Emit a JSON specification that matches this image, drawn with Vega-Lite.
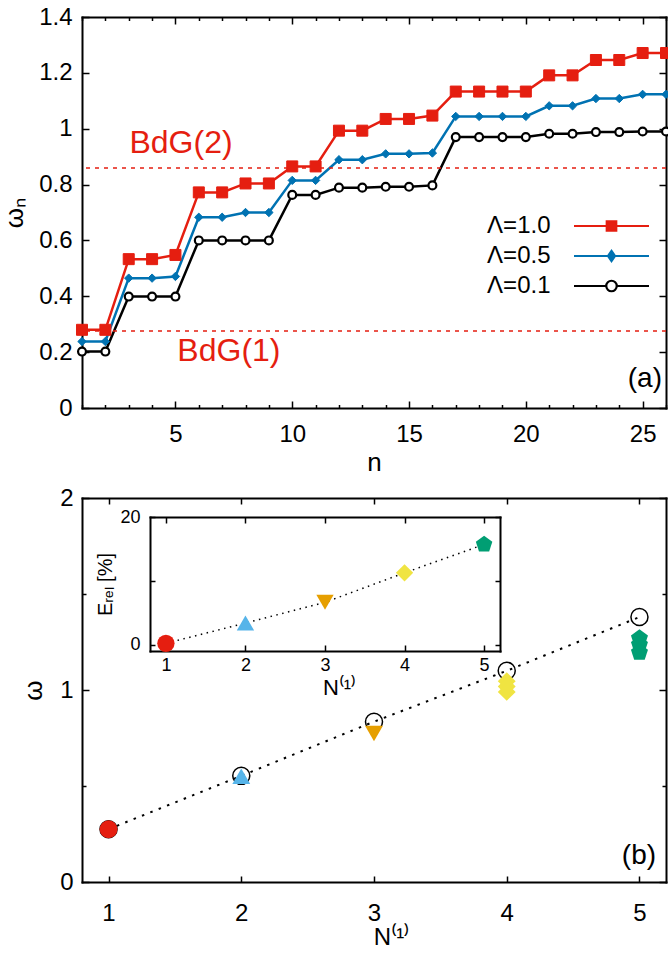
{
  "$schema": "https://vega.github.io/schema/vega-lite/v6.json",
  "padding": {"left": 1, "top": 5, "right": 0, "bottom": 0},
  "background": "white",
  "spacing": 10,
  "config": {
    "view": {"stroke": null},
    "font": "Liberation Sans",
    "axis": {"grid": false, "domainColor": "#000000", "domainWidth": 2, "domainCap": "square", "tickColor": "#000000", "tickWidth": 1.5, "labelColor": "#000000", "titleColor": "#000000", "labelFont": "Liberation Sans", "titleFont": "Liberation Sans", "labelFontSize": 24, "titleFontSize": 26, "titleFontWeight": "normal", "labelFlush": false, "labelOverlap": false},
    "text": {"font": "Liberation Sans"}
  },
  "datasets": {
    "top": [
      {"n":1,"lam":"Λ=1.0","w":0.28},{"n":2,"lam":"Λ=1.0","w":0.28},{"n":3,"lam":"Λ=1.0","w":0.533},{"n":4,"lam":"Λ=1.0","w":0.533},{"n":5,"lam":"Λ=1.0","w":0.548},{"n":6,"lam":"Λ=1.0","w":0.772},{"n":7,"lam":"Λ=1.0","w":0.772},{"n":8,"lam":"Λ=1.0","w":0.804},{"n":9,"lam":"Λ=1.0","w":0.804},{"n":10,"lam":"Λ=1.0","w":0.865},{"n":11,"lam":"Λ=1.0","w":0.865},{"n":12,"lam":"Λ=1.0","w":0.993},{"n":13,"lam":"Λ=1.0","w":0.993},{"n":14,"lam":"Λ=1.0","w":1.035},{"n":15,"lam":"Λ=1.0","w":1.035},{"n":16,"lam":"Λ=1.0","w":1.047},{"n":17,"lam":"Λ=1.0","w":1.133},{"n":18,"lam":"Λ=1.0","w":1.133},{"n":19,"lam":"Λ=1.0","w":1.133},{"n":20,"lam":"Λ=1.0","w":1.133},{"n":21,"lam":"Λ=1.0","w":1.191},{"n":22,"lam":"Λ=1.0","w":1.191},{"n":23,"lam":"Λ=1.0","w":1.246},{"n":24,"lam":"Λ=1.0","w":1.246},{"n":25,"lam":"Λ=1.0","w":1.271},{"n":26,"lam":"Λ=1.0","w":1.271},
      {"n":1,"lam":"Λ=0.5","w":0.238},{"n":2,"lam":"Λ=0.5","w":0.238},{"n":3,"lam":"Λ=0.5","w":0.465},{"n":4,"lam":"Λ=0.5","w":0.465},{"n":5,"lam":"Λ=0.5","w":0.471},{"n":6,"lam":"Λ=0.5","w":0.683},{"n":7,"lam":"Λ=0.5","w":0.683},{"n":8,"lam":"Λ=0.5","w":0.7},{"n":9,"lam":"Λ=0.5","w":0.7},{"n":10,"lam":"Λ=0.5","w":0.815},{"n":11,"lam":"Λ=0.5","w":0.815},{"n":12,"lam":"Λ=0.5","w":0.889},{"n":13,"lam":"Λ=0.5","w":0.889},{"n":14,"lam":"Λ=0.5","w":0.91},{"n":15,"lam":"Λ=0.5","w":0.91},{"n":16,"lam":"Λ=0.5","w":0.913},{"n":17,"lam":"Λ=0.5","w":1.044},{"n":18,"lam":"Λ=0.5","w":1.044},{"n":19,"lam":"Λ=0.5","w":1.044},{"n":20,"lam":"Λ=0.5","w":1.044},{"n":21,"lam":"Λ=0.5","w":1.082},{"n":22,"lam":"Λ=0.5","w":1.082},{"n":23,"lam":"Λ=0.5","w":1.108},{"n":24,"lam":"Λ=0.5","w":1.108},{"n":25,"lam":"Λ=0.5","w":1.123},{"n":26,"lam":"Λ=0.5","w":1.123},
      {"n":1,"lam":"Λ=0.1","w":0.202},{"n":2,"lam":"Λ=0.1","w":0.202},{"n":3,"lam":"Λ=0.1","w":0.399},{"n":4,"lam":"Λ=0.1","w":0.399},{"n":5,"lam":"Λ=0.1","w":0.399},{"n":6,"lam":"Λ=0.1","w":0.6},{"n":7,"lam":"Λ=0.1","w":0.6},{"n":8,"lam":"Λ=0.1","w":0.6},{"n":9,"lam":"Λ=0.1","w":0.6},{"n":10,"lam":"Λ=0.1","w":0.763},{"n":11,"lam":"Λ=0.1","w":0.763},{"n":12,"lam":"Λ=0.1","w":0.789},{"n":13,"lam":"Λ=0.1","w":0.789},{"n":14,"lam":"Λ=0.1","w":0.792},{"n":15,"lam":"Λ=0.1","w":0.792},{"n":16,"lam":"Λ=0.1","w":0.797},{"n":17,"lam":"Λ=0.1","w":0.97},{"n":18,"lam":"Λ=0.1","w":0.97},{"n":19,"lam":"Λ=0.1","w":0.97},{"n":20,"lam":"Λ=0.1","w":0.97},{"n":21,"lam":"Λ=0.1","w":0.982},{"n":22,"lam":"Λ=0.1","w":0.982},{"n":23,"lam":"Λ=0.1","w":0.988},{"n":24,"lam":"Λ=0.1","w":0.988},{"n":25,"lam":"Λ=0.1","w":0.99},{"n":26,"lam":"Λ=0.1","w":0.99}
    ],
    "circ": [{"N":1,"w":0.275},{"N":2,"w":0.553},{"N":3,"w":0.835},{"N":4,"w":1.1},{"N":5,"w":1.38}],
    "marks": [{"N":1,"w":0.275},{"N":2,"w":0.551},{"N":3,"w":0.773},{"N":4,"w":1.046},{"N":4,"w":1.018},{"N":4,"w":0.99},{"N":5,"w":1.27},{"N":5,"w":1.235},{"N":5,"w":1.195}],
    "inset": [{"N":1,"e":0.2},{"N":2,"e":3.38},{"N":3,"e":6.63},{"N":4,"e":11.25},{"N":5,"e":15.7}]
  },
  "resolve": {"scale": {"color": "independent", "shape": "independent"}, "legend": {"color": "independent"}},
  "vconcat": [
    {
      "width": 584,
      "height": 391,
      "resolve": {"scale": {"x": "independent", "y": "independent"}},
      "layer": [
        {
          "layer": [
            {
              "data": {"name": "top"},
              "mark": {"type": "line", "strokeWidth": 2.5},
              "encoding": {
                "x": {"field": "n", "type": "quantitative", "scale": {"domain": [1, 26], "nice": false, "zero": false},
                  "axis": {"orient": "bottom", "values": [1,2,3,4,5,6,7,8,9,10,11,12,13,14,15,16,17,18,19,20,21,22,23,24,25,26], "tickCount": 40, "labelOverlap": false, "labelExpr": "datum.value % 5 === 0 ? '' + datum.value : ''", "tickSize": {"condition": {"test": "datum.value % 5 === 0", "value": -7}, "value": -3.5}, "labelPadding": 21, "title": "n", "titlePadding": 0}},
                "y": {"field": "w", "type": "quantitative", "scale": {"domain": [0, 1.4], "nice": false, "zero": false},
                  "axis": {"orient": "left", "values": [0, 0.2, 0.4, 0.6, 0.8, 1, 1.2, 1.4], "tickCount": 20, "labelOverlap": false, "labelExpr": "'' + datum.value", "tickSize": -7, "labelPadding": 17, "title": "ωₙ", "titlePadding": 11}},
                "color": {"field": "lam", "type": "nominal", "scale": {"domain": ["Λ=1.0", "Λ=0.5", "Λ=0.1"], "range": ["#e51e10", "#0072b2", "#000000"]},
                  "legend": {
                    "orient": "none", "legendX": 517.5, "legendY": 197, "title": null, "padding": 0, "offset": 0,
                    "labelFontSize": 24, "labelFont": "Liberation Sans", "labelColor": "#000000", "labelAlign": "right", "labelBaseline": "middle", "labelOffset": -73, "labelLimit": 0,
                    "symbolSize": 100, "symbolStrokeWidth": 2.2, "rowPadding": 6,
                    "encode": {"symbols": {"update": {
                      "shape": {"signal": "datum.value === 'Λ=1.0' ? 'M-7.5,0H7.5M-0.95,-0.95H0.95V0.95H-0.95Z' : datum.value === 'Λ=0.5' ? 'M-7.5,0H7.5M0,-1L0.7,0L0,1L-0.7,0Z' : 'M-7.5,0H-1.05M1.05,0H7.5M-1.05,0A1.05,1.05 0 1,0 1.05,0A1.05,1.05 0 1,0 -1.05,0Z'"},
                      "fill": {"signal": "datum.value === 'Λ=1.0' ? '#e51e10' : datum.value === 'Λ=0.5' ? '#0072b2' : '#ffffff'"},
                      "stroke": {"signal": "datum.value === 'Λ=1.0' ? '#e51e10' : datum.value === 'Λ=0.5' ? '#0072b2' : '#000000'"},
                      "strokeWidth": {"value": 2.2},
                      "opacity": {"value": 1}
                    }}}
                  }}
              }
            },
            {
              "data": {"values": [{}]},
              "mark": {"type": "rule", "color": "#e51e10", "strokeWidth": 1.5, "strokeDash": [4, 5]},
              "encoding": {"y": {"datum": 0.859}}
            },
            {
              "data": {"values": [{}]},
              "mark": {"type": "rule", "color": "#e51e10", "strokeWidth": 1.5, "strokeDash": [4, 5]},
              "encoding": {"y": {"datum": 0.276}}
            },
            {
              "data": {"name": "top"},
              "transform": [{"filter": "datum.lam === 'Λ=1.0'"}],
              "mark": {"type": "point", "shape": "square", "filled": true, "fill": "#e51e10", "stroke": "#e51e10", "strokeWidth": 1, "size": 121, "opacity": 1},
              "encoding": {"x": {"field": "n", "type": "quantitative"}, "y": {"field": "w", "type": "quantitative"}}
            },
            {
              "data": {"name": "top"},
              "transform": [{"filter": "datum.lam === 'Λ=0.5'"}],
              "mark": {"type": "point", "shape": "diamond", "filled": true, "fill": "#0072b2", "stroke": "#0072b2", "strokeWidth": 1, "size": 70, "opacity": 1},
              "encoding": {"x": {"field": "n", "type": "quantitative"}, "y": {"field": "w", "type": "quantitative"}}
            },
            {
              "data": {"name": "top"},
              "transform": [{"filter": "datum.lam === 'Λ=0.1'"}],
              "mark": {"type": "point", "shape": "circle", "filled": true, "fill": "#ffffff", "stroke": "#000000", "strokeWidth": 2.2, "size": 62, "opacity": 1},
              "encoding": {"x": {"field": "n", "type": "quantitative"}, "y": {"field": "w", "type": "quantitative"}}
            },
            {
              "data": {"values": [{}]},
              "mark": {"type": "text", "text": "BdG(2)", "fontSize": 32, "color": "#e51e10", "align": "center", "baseline": "middle"},
              "encoding": {"x": {"datum": 5.24}, "y": {"datum": 0.95}}
            },
            {
              "data": {"values": [{}]},
              "mark": {"type": "text", "text": "BdG(1)", "fontSize": 32, "color": "#e51e10", "align": "center", "baseline": "middle"},
              "encoding": {"x": {"datum": 7.29}, "y": {"datum": 0.204}}
            },
            {
              "data": {"values": [{}]},
              "mark": {"type": "text", "text": "(a)", "fontSize": 28, "color": "#000000", "align": "right", "baseline": "middle"},
              "encoding": {"x": {"datum": 25.83}, "y": {"datum": 0.104}}
            }
          ]
        },
        {
          "data": {"name": "top"},
          "mark": {"type": "point", "opacity": 0},
          "encoding": {
            "x": {"field": "n", "type": "quantitative", "scale": {"domain": [1, 26], "nice": false, "zero": false},
              "axis": {"orient": "top", "values": [1,2,3,4,5,6,7,8,9,10,11,12,13,14,15,16,17,18,19,20,21,22,23,24,25,26], "tickCount": 40, "labels": false, "tickSize": {"condition": {"test": "datum.value % 5 === 0", "value": -7}, "value": -3.5}, "title": null}},
            "y": {"field": "w", "type": "quantitative", "scale": {"domain": [0, 1.4], "nice": false, "zero": false},
              "axis": {"orient": "right", "values": [0, 0.2, 0.4, 0.6, 0.8, 1, 1.2, 1.4], "tickCount": 20, "labels": false, "tickSize": -7, "title": null}}
          }
        }
      ]
    },
    {
      "width": 584,
      "height": 384,
      "resolve": {"scale": {"x": "independent", "y": "independent"}},
      "layer": [
        {
          "layer": [
            {
              "data": {"name": "circ"},
              "mark": {"type": "line", "color": "#000000", "strokeWidth": 2, "strokeDash": [2.5, 6.5]},
              "encoding": {
                "x": {"field": "N", "type": "quantitative", "scale": {"domain": [0.8, 5.2], "nice": false, "zero": false},
                  "axis": {"orient": "bottom", "values": [1, 2, 3, 4, 5], "tickCount": 20, "format": "d", "tickSize": -6, "labelPadding": 25, "title": "N⁽¹⁾", "titleFontSize": 24, "titlePadding": 0, "titleX": 309}},
                "y": {"field": "w", "type": "quantitative", "scale": {"domain": [0, 2], "nice": false, "zero": false},
                  "axis": {"orient": "left", "values": [0, 0.5, 1, 1.5, 2], "tickCount": 20, "labelOverlap": false, "labelExpr": "datum.value % 1 === 0 ? '' + datum.value : ''", "tickSize": {"condition": {"test": "datum.value % 1 === 0", "value": -7}, "value": -4}, "labelPadding": 16, "title": "ω", "titlePadding": 13}}
              }
            },
            {
              "data": {"name": "circ"},
              "mark": {"type": "point", "shape": "circle", "filled": false, "stroke": "#000000", "strokeWidth": 1.5, "size": 290, "opacity": 1},
              "encoding": {"x": {"field": "N", "type": "quantitative"}, "y": {"field": "w", "type": "quantitative"}}
            },
            {
              "data": {"name": "marks"},
              "mark": {"type": "point", "filled": true, "size": 320, "opacity": 1},
              "encoding": {
                "x": {"field": "N", "type": "quantitative"},
                "y": {"field": "w", "type": "quantitative"},
                "color": {"field": "N", "type": "nominal", "scale": {"domain": [1, 2, 3, 4, 5], "range": ["#e51e10", "#56b4e9", "#e69f00", "#f0e442", "#009e73"]}, "legend": null},
                "shape": {"field": "N", "type": "nominal", "scale": {"domain": [1, 2, 3, 4, 5], "range": ["circle", "triangle-up", "triangle-down", "diamond", "M0,-1L0.951,-0.309L0.588,0.809L-0.588,0.809L-0.951,-0.309Z"]}, "legend": null}
              }
            },
            {
              "data": {"values": [{}]},
              "mark": {"type": "text", "text": "(b)", "fontSize": 28, "color": "#000000", "align": "right", "baseline": "middle"},
              "encoding": {"x": {"datum": 5.125}, "y": {"datum": 0.138}}
            }
          ]
        },
        {
          "data": {"name": "circ"},
          "mark": {"type": "point", "opacity": 0},
          "encoding": {
            "x": {"field": "N", "type": "quantitative", "scale": {"domain": [0.8, 5.2], "nice": false, "zero": false},
              "axis": {"orient": "top", "values": [1, 2, 3, 4, 5], "tickCount": 20, "labels": false, "tickSize": -6, "title": null}},
            "y": {"field": "w", "type": "quantitative", "scale": {"domain": [0, 2], "nice": false, "zero": false},
              "axis": {"orient": "right", "values": [0, 0.5, 1, 1.5, 2], "tickCount": 20, "labels": false, "tickSize": {"condition": {"test": "datum.value % 1 === 0", "value": -7}, "value": -4}, "title": null}}
          }
        },
        {
          "layer": [
            {
              "data": {"name": "inset"},
              "mark": {"type": "line", "color": "#000000", "strokeWidth": 1.5, "strokeDash": [1.5, 4.5]},
              "encoding": {
                "x": {"field": "N", "type": "quantitative", "scale": {"domain": [0.8, 5.2], "range": [68, 418], "nice": false, "zero": false},
                  "axis": {"orient": "bottom", "offset": -231, "values": [1, 2, 3, 4, 5], "tickCount": 20, "format": "d", "tickSize": -6, "labelPadding": 11, "labelFontSize": 18, "title": "N⁽¹⁾", "titleFontSize": 22, "titlePadding": 3, "titleX": 257}},
                "y": {"field": "e", "type": "quantitative", "scale": {"domain": [-1, 20], "range": [153, 19], "nice": false, "zero": false},
                  "axis": {"orient": "left", "offset": -68, "values": [0, 10, 20], "tickCount": 20, "labelOverlap": false, "labelExpr": "datum.value === 10 ? '' : '' + datum.value", "tickSize": -5, "labelPadding": 15, "labelFontSize": 18, "title": "Eᵣₑₗ [%]", "titleFontSize": 20, "titlePadding": 4}}
              }
            },
            {
              "data": {"name": "inset"},
              "mark": {"type": "point", "filled": true, "size": 300, "opacity": 1},
              "encoding": {
                "x": {"field": "N", "type": "quantitative"},
                "y": {"field": "e", "type": "quantitative"},
                "color": {"field": "N", "type": "nominal", "legend": null},
                "shape": {"field": "N", "type": "nominal", "legend": null}
              }
            }
          ]
        },
        {
          "data": {"name": "inset"},
          "mark": {"type": "point", "opacity": 0},
          "encoding": {
            "x": {"field": "N", "type": "quantitative", "scale": {"domain": [0.8, 5.2], "range": [68, 418], "nice": false, "zero": false},
              "axis": {"orient": "top", "offset": -19, "values": [1, 2, 3, 4, 5], "tickCount": 20, "labels": false, "tickSize": -6, "title": null}},
            "y": {"field": "e", "type": "quantitative", "scale": {"domain": [-1, 20], "range": [153, 19], "nice": false, "zero": false},
              "axis": {"orient": "right", "offset": -166, "values": [0, 10, 20], "tickCount": 20, "labels": false, "tickSize": -5, "title": null}}
          }
        }
      ]
    }
  ]
}
